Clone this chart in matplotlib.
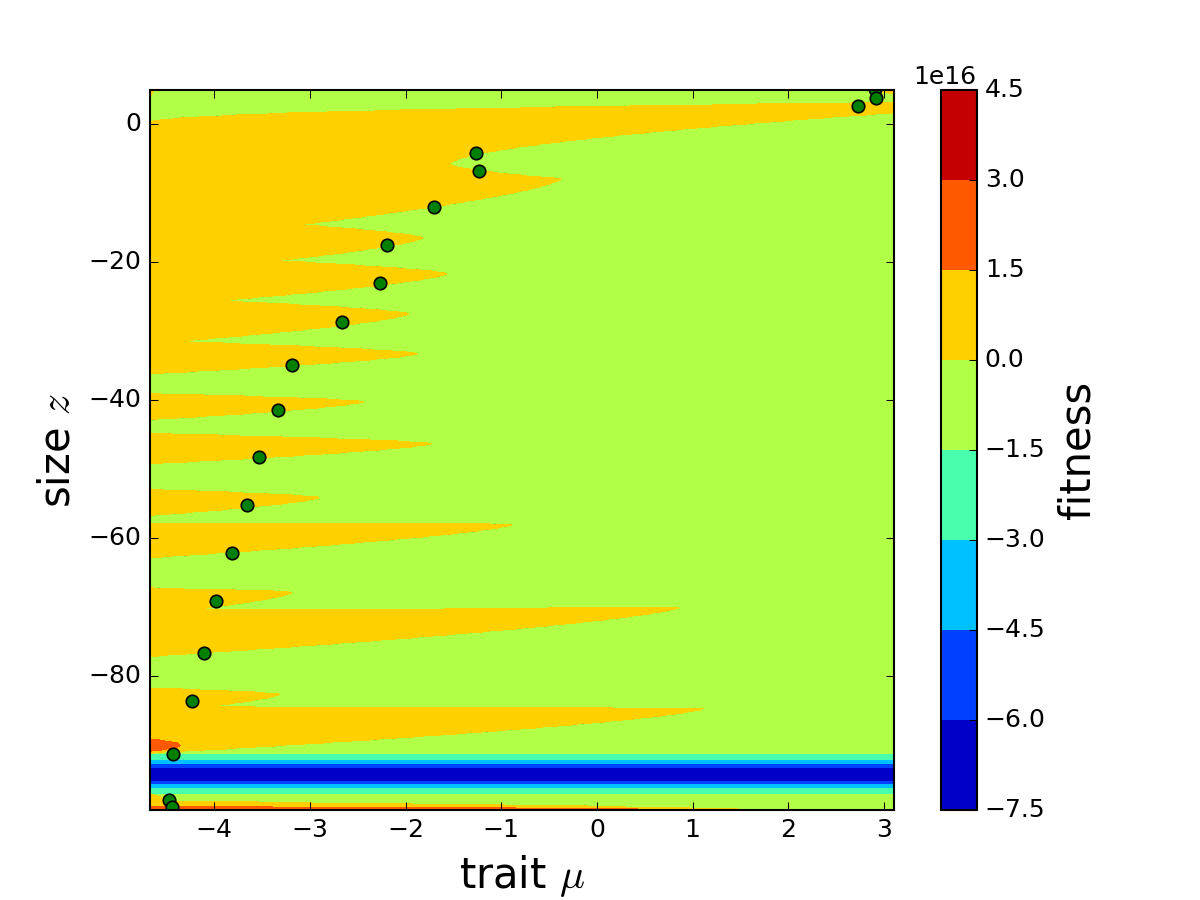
import numpy as np
import matplotlib
matplotlib.use('Agg')
import matplotlib.pyplot as plt

plt.style.use('classic')

# plot window
mu_lim = (-4.673, 3.106)
z_lim = (-99.4, 4.93)

# fitness of the flat regions (units of 1e16)
fit_low = -0.5
fit_high = 1.2
fit_peak = 2.25
taper = 0.7

# right-pointing orange fingers: tip mu, tip z, upper z / lower z at left edge
fingers_up = [
    (-0.380, -7.94, -2.52, -17.06),
    (-1.825, -16.48, -13.22, -21.60),
    (-1.574, -21.69, -18.93, -26.37),
    (-1.972, -27.50, -25.16, -31.79),
    (-1.877, -33.27, -31.42, -36.16),
]
fingers_low = [
    (-2.443, -40.22, -39.06, -42.82),
    (-1.731, -46.30, -44.85, -49.20),
    (-2.904, -54.12, -52.96, -56.72),
    (-0.882, -58.00, -57.87, -62.79),
    (-3.186, -67.86, -67.28, -71.03),
    (0.859, -69.99, -70.45, -77.12),
    (-3.322, -82.62, -81.75, -85.32),
    (1.117, -84.65, -84.50, -91.16),
    (-4.38, -98.40, -97.10, -101.0),
    (1.61, -99.40, -98.10, -101.0),
]
peaks = [
    (-4.36, -90.0, -89.15, -90.9),
    (0.59, -99.4, -98.9, -101.0),
]
# orange above this z, carved by the left-pointing green wedges below
band_top_z = -6.0
# left-pointing wedges: tip mu, tip z, upper z / lower z at right edge, power
notches = [
    (-4.72, -0.10, 30.0, 3.09, 0.4),
    (-1.54, -5.77, 1.65, -10.76, 0.6),
]
corner = (2.95, 4.93, 6.0, 4.4, 0.5)

# deep valley: centre, width, depth
dip_z, dip_w, dip_depth = -94.2, 2.1, 6.9

levels = np.arange(-7.5, 4.6, 1.5) * 1e16

mu_points = [2.91, 2.918, 2.730, -1.26, -1.234, -1.699, -2.191, -2.27, -2.666,
             -3.186, -3.336, -3.532, -3.661, -3.815, -3.982, -4.105, -4.230,
             -4.436, -4.473, -4.446]
z_points = [5.1, 3.78, 2.62, -4.23, -6.79, -12.0, -17.54, -23.0, -28.7,
            -34.96, -41.47, -48.18, -55.17, -62.11, -69.06, -76.64, -83.59,
            -91.3, -97.96, -99.0]


def wedge(M, Z, tip_mu, tip_z, base_mu, up_z, lo_z, p):
    t = (M - tip_mu) / (base_mu - tip_mu)
    s = np.clip(t, 0, None) ** p
    up = tip_z + (up_z - tip_z) * s
    lo = tip_z + (lo_z - tip_z) * s
    return (t >= 0) & (Z <= up) & (Z >= lo)


mu = np.linspace(mu_lim[0], mu_lim[1], 1400)
z = np.linspace(z_lim[0], z_lim[1], 1200)
M, Z = np.meshgrid(mu, z)

fit = np.full(M.shape, fit_low)
for tm, tz, uz, lz in fingers_up:
    fit[wedge(M, Z, tm, tz, mu_lim[0], uz, lz, taper)] = fit_high
fit[Z >= band_top_z] = fit_high
for tm, tz, uz, lz, p in notches:
    fit[wedge(M, Z, tm, tz, mu_lim[1], uz, lz, p)] = fit_low
tm, tz, uz, lz, p = corner
fit[wedge(M, Z, tm, tz, mu_lim[1], uz, lz, p)] = fit_high
for tm, tz, uz, lz in fingers_low:
    fit[wedge(M, Z, tm, tz, mu_lim[0], uz, lz, taper)] = fit_high
for tm, tz, uz, lz in peaks:
    fit[wedge(M, Z, tm, tz, mu_lim[0], uz, lz, 0.5)] = fit_peak
fit = fit - dip_depth * np.exp(-((Z - dip_z) / dip_w) ** 2)
fit = fit * 1e16

fig = plt.figure(figsize=(8, 6))
cs = plt.contourf(M, Z, fit, levels=levels, cmap='jet')
plt.plot(mu_points, z_points, 'go', mec='k', mew=0.8, ms=6)
plt.xlim(mu_lim)
plt.ylim(z_lim)
plt.xlabel(r'trait $\mu$', fontsize=20)
plt.ylabel(r'size $z$', fontsize=20)
cbar = plt.colorbar(cs)
cbar.set_ticks(levels)
cbar.set_label('fitness', fontsize=20)

fig.savefig('out.png', dpi=150)
